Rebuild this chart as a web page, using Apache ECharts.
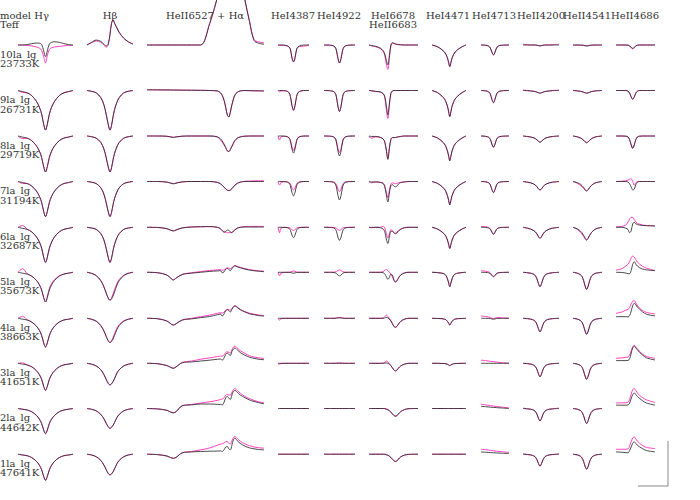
<!DOCTYPE html>
<html><head><meta charset="utf-8">
<script src="https://cdn.jsdelivr.net/npm/echarts@6/dist/echarts.min.js"></script>
<style>html,body{margin:0;padding:0;background:#fff}#c{width:700px;height:500px}</style>
</head><body><div id="c"></div><script>
// ---------- labels ----------
const models = ['10la_lg','9la_lg','8la_lg','7la_lg','6la_lg','5la_lg','4la_lg','3la_lg','2la_lg','1la_lg'];
const teffs = ['23733K','26731K','29719K','31194K','32687K','35673K','38663K','41651K','44642K','47641K'];
const colTitles = ['model Hγ','Hβ','HeII6527 + Hα','HeI4387','HeI4922','HeI6678','HeI4471','HeI4713','HeII4200','HeII4541','HeII4686'];
const subTitles = ['Teff','','','','','HeII6683','','','','',''];

// ---------- wavelength offsets (Angstrom) per panel ----------
const xHg = [-18,-15,-12,-9,-6,-4,-2.5,-1.2,0,1.2,2.5,4,6,9,12,15,18];
const xHb = [-15,-12,-9,-6,-4,-2.5,-1.2,0,1,2,3,4.5,6,9,12,15];
const xHa = [-53,-46,-40,-37.5,-35.8,-34,-30,-24,-18,-12,-7,-5,-3.8,-2.6,-1.5,-0.5,0.5,1.5,2.5,3.5,4.5,6,8,11,14,17,20,23.5];
const x4387 = [-10,-9,-8,-5,-3,-2,-1,0,1,2,3,5,8,10];
const x4922 = [-10,-5,-3,-2,-1,0,1,2,3,5,10];
const x6678 = [-12.5,-11,-8,-5,-3,-2,-1,0,1,2,3,4,5,6,7,8.5,11,14,20];
const x4471 = [-11.5,-8,-5,-3.5,-2.5,-1.5,-0.7,0,0.7,1.5,2.5,3.5,5,8,10.5];
const x4713 = [-8,-5,-3,-2,-1,0,1,2,3,5,10];
const x4200 = [-11,-8,-6,-4,-3,-2,-1,0,1,2,3,4,6,8,12.3];
const x4541 = [-8.8,-6,-4,-3,-2,-1,0,1,2,3,4,6,9.9];
const x4686 = [-10.8,-7,-4.5,-3,-2,-1,0,1,2,3,4.5,6.5,9,14.4];

// ---------- normalised flux, rows top (10la_lg) to bottom (1la_lg) ----------
const hgBlack = [
[1,1,1.005,1.015,1.022,1.02,1.005,0.935,0.87,0.935,1.01,1.03,1.035,1.03,1.015,1.005,1],
[1,.987,.974,.943,.881,.815,.736,.626,.56,.626,.736,.815,.881,.943,.974,.987,1],
[1,.988,.976,.948,.892,.832,.76,.66,.6,.66,.76,.832,.892,.948,.976,.988,1],
[1,.988,.977,.949,.895,.836,.766,.668,.61,.668,.766,.836,.895,.949,.977,.988,1],
[1,.988,.977,.949,.895,.836,.766,.668,.61,.668,.766,.836,.895,.949,.977,.988,1],
[1,.99,.98,.957,.911,.861,.802,.72,.67,.72,.802,.861,.911,.957,.98,.99,1],
[1,.99,.981,.958,.914,.866,.808,.728,.68,.728,.808,.866,.914,.958,.981,.99,1],
[1,.991,.982,.961,.919,.874,.82,.745,.70,.745,.82,.874,.919,.961,.982,.991,1],
[1,.992,.983,.964,.924,.882,.832,.762,.72,.762,.832,.882,.924,.964,.983,.992,1],
[1,.991,.983,.962,.922,.878,.826,.754,.71,.754,.826,.878,.922,.962,.983,.991,1]];
const hgMagenta = [
[1,1,.995,.99,.978,.965,.94,.87,.8,.88,.95,.97,.978,.985,.99,.995,.995],
[1,.978,.974,.943,.881,.815,.736,.626,.56,.626,.736,.815,.881,.943,.974,.987,1],
[1,.972,.976,.948,.892,.832,.76,.66,.6,.66,.76,.832,.892,.948,.976,.988,1],
[1,.978,.977,.949,.895,.836,.766,.668,.61,.668,.766,.836,.895,.949,.977,.988,1],
[1,1.02,.98,.949,.895,.836,.766,.668,.61,.668,.766,.836,.895,.949,.977,.988,1],
[1,1.04,.985,.957,.911,.861,.802,.72,.67,.73,.82,.875,.92,.96,.98,.99,1],
[1,1.022,.985,.958,.914,.866,.808,.728,.68,.728,.808,.866,.914,.958,.981,.99,1],
[1,1.005,.982,.961,.919,.874,.82,.745,.70,.745,.82,.874,.919,.961,.982,.991,1],
[1,.992,.983,.964,.924,.882,.832,.762,.72,.762,.832,.882,.924,.964,.983,.992,1],
[1,.991,.983,.962,.922,.878,.826,.754,.71,.754,.826,.878,.922,.962,.983,.991,1]];

const hbBlack = [
[1,1.03,1.055,1.04,1.01,.99,1.01,1.12,1.24,1.28,1.24,1.19,1.14,1.075,1.035,1.01],
[1,.991,.974,.921,.842,.736,.626,.56,.613,.71,.789,.868,.921,.974,.991,1],
[1,.992,.976,.928,.856,.76,.66,.60,.648,.736,.808,.88,.928,.976,.992,1],
[1,.992,.977,.93,.86,.766,.668,.61,.657,.743,.813,.883,.93,.977,.992,1],
[1,.992,.977,.93,.86,.766,.668,.61,.657,.743,.813,.883,.93,.977,.992,1],
[1,.988,.963,.907,.839,.771,.715,.69,.705,.737,.783,.857,.907,.963,.988,1],
[1,.989,.968,.919,.86,.8,.752,.73,.744,.77,.811,.876,.919,.968,.989,1],
[1,.99,.971,.928,.875,.822,.779,.76,.772,.796,.832,.89,.928,.971,.99,1],
[1,.991,.974,.934,.886,.837,.798,.78,.791,.813,.846,.899,.934,.974,.991,1],
[1,.991,.972,.931,.88,.83,.788,.77,.781,.804,.839,.894,.931,.972,.991,1]];
const hbMagenta = [
[1,1.025,1.045,1.03,1.0,.975,1.0,1.12,1.24,1.28,1.24,1.19,1.14,1.075,1.035,1.01],
[1,.991,.974,.921,.842,.736,.626,.56,.613,.71,.789,.868,.921,.974,.991,1],
[1,.992,.976,.928,.856,.76,.66,.60,.648,.736,.808,.88,.928,.976,.992,1],
[1,.992,.977,.93,.86,.766,.668,.61,.657,.743,.813,.883,.93,.977,.992,1],
[1,.992,.977,.93,.86,.766,.668,.61,.657,.743,.813,.883,.93,.977,.992,1],
[1,.988,.963,.907,.839,.771,.715,.69,.715,.76,.81,.875,.92,.968,.99,1],
[1,.989,.968,.919,.86,.8,.752,.73,.75,.785,.83,.89,.93,.972,.99,1],
[1,.99,.971,.928,.875,.822,.779,.76,.772,.796,.832,.89,.928,.971,.99,1],
[1,.991,.974,.934,.886,.837,.798,.78,.791,.813,.846,.899,.934,.974,.991,1],
[1,.991,.972,.931,.88,.83,.788,.77,.781,.804,.839,.894,.931,.972,.991,1]];

const haBlack = [
[1,1,1,1,1,1,1,1,1,1.24,1.53,1.7,1.8,1.9,2,2.05,2.1,2.1,2.1,2.05,2,1.9,1.75,1.5,1.26,1.05,1.02,1.008],
[1.008,1.007,1.006,1.006,1.005,1.005,1.004,1.003,1.002,1,.995,.975,.945,.89,.81,.73,.705,.76,.84,.905,.95,.98,.995,1,.998,.997,.996,.995],
[1,1,.997,.99,.985,.99,.998,1,1,1,.99,.97,.945,.91,.87,.835,.828,.85,.885,.92,.95,.975,.99,.998,1,1,1,1],
[1,1,.993,.982,.975,.982,.996,1,1,1,.99,.975,.957,.937,.917,.903,.9,.905,.92,.94,.96,.98,.993,1,1,1,1,1],
[1,.998,.985,.968,.96,.97,.993,1.003,1.006,1.008,1.0,.985,.962,.945,.955,.968,.965,.95,.94,.955,.97,.99,1.0,1.003,1.003,1.003,1.003,1.003],
[1,.995,.97,.935,.915,.935,.975,.99,1.0,1.01,1.015,1.018,.995,1.005,1.035,1.045,1.03,1.018,1.04,1.06,1.073,1.06,1.05,1.035,1.025,1.017,1.012,1.007],
[1,.995,.97,.94,.925,.94,.98,.993,1.007,1.02,1.04,1.048,1.025,1.05,1.085,1.097,1.085,1.07,1.1,1.125,1.137,1.12,1.095,1.07,1.05,1.04,1.03,1.025],
[1,.995,.975,.955,.945,.96,1.005,1.015,1.025,1.035,1.045,1.048,1.035,1.06,1.1,1.115,1.1,1.085,1.13,1.16,1.17,1.15,1.12,1.09,1.068,1.055,1.045,1.04],
[1,.995,.98,.96,.952,.965,1.03,1.04,1.05,1.05,1.046,1.045,1.04,1.07,1.12,1.135,1.115,1.1,1.15,1.19,1.2,1.18,1.15,1.12,1.095,1.078,1.065,1.052],
[1,.995,.98,.962,.955,.965,1.015,1.025,1.03,1.033,1.035,1.037,1.03,1.05,1.08,1.085,1.06,1.048,1.1,1.16,1.178,1.15,1.12,1.09,1.07,1.06,1.052,1.048]];
const haMagenta = [
[1,1,1,1,1,1,1,1,1,1.24,1.53,1.7,1.8,1.9,2,2.05,2.1,2.1,2.1,2.05,2,1.9,1.75,1.5,1.27,1.06,1.035,1.025],
[1.008,1.007,1.006,1.006,1.005,1.005,1.004,1.003,1.002,1,.995,.975,.945,.89,.81,.73,.705,.76,.84,.905,.95,.98,.995,1,.998,.997,.996,.995],
[1,1,.997,.99,.985,.99,.998,1,1,1,.99,.955,.93,.9,.87,.835,.828,.85,.885,.92,.95,.975,.99,.998,1,1,1,1],
[1,1,.993,.982,.975,.982,.996,1,1,1,.99,.975,.957,.937,.917,.903,.9,.905,.92,.94,.96,.98,.993,1.003,1.005,1.007,1.008,1.008],
[1,.998,.985,.968,.96,.97,.993,1.003,1.006,1.008,1.0,.985,.965,.95,.945,.94,.94,.94,.945,.96,.975,.99,1.0,1.008,1.01,1.01,1.01,1.01],
[1,.995,.97,.935,.915,.935,.977,.995,1.008,1.02,1.027,1.03,1.022,1.027,1.04,1.05,1.045,1.04,1.052,1.066,1.076,1.066,1.055,1.04,1.03,1.022,1.017,1.012],
[1,.995,.97,.94,.925,.94,.982,1.0,1.018,1.035,1.055,1.062,1.058,1.07,1.09,1.1,1.095,1.09,1.11,1.13,1.14,1.125,1.1,1.075,1.057,1.045,1.037,1.03],
[1,.995,.975,.955,.945,.96,1.01,1.025,1.045,1.06,1.075,1.08,1.08,1.095,1.12,1.13,1.12,1.115,1.15,1.18,1.19,1.17,1.14,1.11,1.085,1.07,1.06,1.055],
[1,.995,.98,.96,.952,.965,1.03,1.045,1.06,1.075,1.09,1.1,1.105,1.12,1.15,1.156,1.15,1.15,1.18,1.21,1.22,1.2,1.17,1.135,1.11,1.09,1.075,1.063],
[1,.995,.98,.962,.955,.965,1.015,1.03,1.048,1.07,1.1,1.112,1.115,1.125,1.14,1.14,1.12,1.115,1.15,1.185,1.196,1.175,1.145,1.115,1.095,1.08,1.072,1.067]];

const he4387Black = [
[1,1,1,.996,.981,.954,.861,.815,.861,.954,.981,.996,1,1],
[1,1,1,.996,.978,.934,.835,.78,.835,.934,.978,.996,1,1],
[1,1,1,.996,.981,.943,.858,.81,.858,.943,.981,.996,1,1],
[1,1,1,.997,.984,.952,.88,.84,.88,.952,.984,.997,1,1],
[1,1,1,.998,.989,.966,.914,.885,.914,.966,.989,.998,1,1],
[1,1,1,1,1,.998,.993,.99,.993,.998,1,1,1,1],
[1,1,1,1,1,1,1,1,1,1,1,1,1,1],
[1,1,1,1,1,1,1,1,1,1,1,1,1,1],
[1,1,1,1,1,1,1,1,1,1,1,1,1,1],
[1,1,1,1,1,1,1,1,1,1,1,1,1,1]];
const he4387Magenta = [
[1,.995,.998,.993,.978,.95,.855,.81,.855,.95,.975,.985,.99,1],
[1,.985,.995,.996,.978,.934,.835,.78,.835,.934,.978,.996,1,1],
[1,.955,.99,.997,.984,.952,.88,.84,.88,.952,.984,.997,1,1],
[1,.96,.99,.998,.99,.972,.929,.905,.929,.972,.99,.998,1,1],
[1,.94,.99,1,.997,.99,.974,.965,.974,.99,.997,1,1,1],
[1,.96,.99,1,1,1.004,1.011,1.015,1.011,1.004,1,1,1,1],
[1,.98,.995,1,1,1,1,1,1,1,1,1,1,1],
[1,.99,.998,1,1,1,1,1,1,1,1,1,1,1],
[1,1,1,1,1,1,1,1,1,1,1,1,1,1],
[1,1,1,1,1,1,1,1,1,1,1,1,1,1]];

const he4922Black = [
[1,.996,.98,.94,.85,.8,.85,.94,.98,.996,1],
[1,.995,.977,.93,.825,.767,.825,.93,.977,.995,1],
[1,.996,.978,.933,.834,.778,.834,.933,.978,.996,1],
[1,.996,.98,.939,.846,.795,.846,.939,.98,.996,1],
[1,.997,.986,.957,.891,.855,.891,.957,.986,.997,1],
[1,1,.996,.988,.97,.96,.97,.988,.996,1,1],
[1,1,1,1.002,1.004,1.005,1.004,1.002,1,1,1],
[1,1,1,1,1,1,1,1,1,1,1],
[1,1,1,1,1,1,1,1,1,1,1],
[1,1,1,1,1,1,1,1,1,1,1]];
const he4922Magenta = [
[1,.996,.98,.94,.85,.8,.85,.94,.98,.996,1],
[1,.995,.977,.93,.825,.767,.825,.93,.977,.995,1],
[1,.996,.981,.944,.861,.815,.861,.944,.981,.996,1],
[1,.998,.989,.966,.915,.887,.915,.966,.989,.998,1],
[1,1,.997,.99,.975,.967,.975,.99,.997,1,1],
[1,1,1.003,1.008,1.019,1.025,1.019,1.008,1.003,1,1],
[1,1,1,1.003,1.008,1.01,1.008,1.003,1,1,1],
[1,1,1,1.002,1.004,1.005,1.004,1.002,1,1,1],
[1,1,1,1,1,1,1,1,1,1,1],
[1,1,1,1,1,1,1,1,1,1,1]];

const he6678Black = [
[1,.995,.985,.965,.935,.9,.83,.78,.88,1.0,1.025,1.02,1.012,1.008,1.005,1.003,1,1,1],
[1,.998,.99,.985,.965,.93,.83,.73,.85,.97,.995,1,1,1,1,1,1,1,1],
[1,.995,.995,.985,.965,.93,.84,.74,.86,.96,.983,.982,.983,.987,.991,.995,1,1,1],
[1,.995,.995,.99,.975,.94,.85,.773,.87,.955,.965,.95,.94,.95,.97,.988,.995,1,1],
[1,1,1,.995,.98,.95,.87,.82,.89,.955,.955,.937,.928,.937,.955,.978,.995,1,1],
[1,1,1,1,.995,.98,.95,.922,.945,.978,.97,.92,.89,.905,.935,.97,.993,1,1],
[1,1,1,1,1,1.005,1.01,1.005,.99,.97,.94,.912,.9,.91,.935,.965,.99,1,1],
[1,1,1,1,1,1.002,1.005,1.0,.99,.975,.95,.927,.915,.925,.945,.97,.99,1,1],
[1,1,1,1,1,.998,.99,.985,.975,.96,.94,.922,.915,.92,.94,.965,.988,.998,1],
[1,1,1,1,1,.998,.992,.988,.978,.963,.945,.927,.92,.925,.945,.97,.99,.998,1]];
const he6678Magenta = [
[1,.99,.98,.96,.925,.88,.79,.73,.85,.99,1.02,1.015,1.01,1.006,1.004,1.002,1,1,1],
[1,.995,.99,.98,.96,.92,.79,.69,.83,.965,.99,1,1,1,1,1,1,1,1],
[1,.975,.99,.985,.965,.93,.845,.75,.865,.96,.983,.982,.983,.987,.991,.995,1,1,1],
[1,.985,.995,.99,.98,.95,.88,.82,.9,.97,.985,.98,.975,.98,.985,.99,.995,1,1],
[1,.995,1,1,1.01,.99,.93,.88,.93,.97,.965,.945,.935,.945,.965,.98,.995,1,1],
[1,1,1,1,1.01,1.025,1.03,1.02,1.0,.98,.95,.91,.895,.905,.935,.97,.993,1,1],
[1,1,1,1,1.005,1.02,1.035,1.02,1.0,.975,.945,.91,.9,.91,.935,.965,.99,1,1],
[1,1,1,1,1.003,1.01,1.025,1.015,.995,.975,.95,.927,.915,.925,.945,.97,.99,1,1],
[1,1,1,1,1,1,.998,.99,.978,.96,.94,.922,.915,.92,.94,.965,.988,.998,1],
[1,1,1,1,1,1,.998,.99,.98,.963,.945,.927,.92,.925,.945,.97,.99,.998,1]];

const he4471Black = [
[1,.981,.947,.923,.897,.856,.803,.76,.803,.856,.897,.923,.947,.981,1],
[1,.977,.936,.907,.875,.826,.762,.71,.762,.826,.875,.907,.936,.977,1],
[1,.978,.94,.912,.882,.835,.775,.725,.775,.835,.882,.912,.94,.978,1],
[1,.979,.943,.917,.888,.844,.787,.74,.787,.844,.888,.917,.943,.979,1],
[1,.981,.948,.925,.899,.859,.807,.765,.807,.859,.899,.925,.948,.981,1],
[1,.997,.99,.981,.965,.928,.88,.84,.88,.928,.965,.981,.99,.997,1],
[1,.998,.996,.991,.984,.966,.944,.925,.944,.966,.984,.991,.996,.998,1],
[1,1,.998,.997,.995,.989,.981,.975,.981,.989,.995,.997,.998,1,1],
[1,1,1,1,1,1,1,1,1,1,1,1,1,1,1],
[1,1,1,1,1,1,1,1,1,1,1,1,1,1,1]];
const he4471Magenta = [
[1,.981,.947,.923,.897,.856,.803,.76,.803,.856,.897,.923,.947,.981,1],
[1,.977,.936,.907,.875,.826,.762,.71,.762,.826,.875,.907,.936,.977,1],
[1,.978,.94,.912,.882,.835,.775,.725,.775,.835,.882,.912,.94,.978,1],
[1,.979,.943,.917,.888,.844,.787,.74,.787,.844,.888,.917,.943,.979,1],
[1,.981,.948,.925,.899,.859,.807,.765,.807,.859,.899,.925,.948,.981,1],
[1,.997,.99,.981,.965,.928,.88,.84,.88,.928,.965,.981,.99,.997,1],
[1,.998,.996,.991,.984,.966,.944,.925,.944,.966,.984,.991,.996,.998,1],
[1,1,.998,.997,.995,.989,.981,.975,.981,.989,.995,.997,.998,1,1],
[1,1,1,1,1,1,1,1,1,1,1,1,1,1,1],
[1,1,1,1,1,1,1,1,1,1,1,1,1,1,1]];

const he4713Black = [
[1,.997,.987,.967,.921,.89,.921,.967,.987,.997,1],
[1,.996,.984,.96,.903,.865,.903,.96,.984,.996,1],
[1,.996,.985,.963,.91,.875,.91,.963,.985,.996,1],
[1,.996,.985,.963,.911,.877,.911,.963,.985,.996,1],
[1,.998,.991,.977,.944,.922,.944,.977,.991,.998,1],
[1,.998,.994,.985,.964,.95,.964,.985,.994,.998,1],
[1,1,.999,.997,.993,.99,.993,.997,.999,1,1],
[1,1,1,1,1,1,1,1,1,1,1],
[1.025,1.02,1.017,1.015,1.013,1.012,1.011,1.01,1.008,1.006,1.0],
[1.025,1.022,1.02,1.018,1.017,1.016,1.015,1.014,1.013,1.011,1.008]];
const he4713Magenta = [
[1,.997,.987,.967,.921,.89,.921,.967,.987,.997,1],
[1,.996,.984,.96,.903,.865,.903,.96,.984,.996,1],
[1,.996,.985,.963,.91,.875,.91,.963,.985,.996,1],
[1,.996,.985,.963,.911,.877,.911,.963,.985,.996,1],
[1.01,1.006,.998,.983,.95,.925,.946,.978,.991,.998,1],
[1.018,1.012,1.004,.992,.97,.955,.966,.986,.994,.998,1],
[1.025,1.02,1.014,1.008,1.0,.996,1.002,1.008,1.008,1.005,1.0],
[1.035,1.03,1.025,1.022,1.02,1.018,1.016,1.014,1.012,1.008,1.0],
[1.048,1.04,1.035,1.032,1.03,1.028,1.025,1.022,1.02,1.016,1.007],
[1.055,1.05,1.045,1.042,1.04,1.038,1.036,1.034,1.032,1.028,1.02]];

const he4200Black = [
[1,1,1,1,1,.998,.993,.99,.993,.998,1,1,1,1,1],
[1,.998,.995,.991,.987,.982,.975,.97,.975,.982,.987,.991,.995,.998,1],
[1,.994,.989,.979,.971,.958,.941,.93,.941,.958,.971,.979,.989,.994,1],
[1,.992,.985,.972,.96,.943,.919,.905,.919,.943,.96,.972,.985,.992,1],
[1,.99,.98,.963,.949,.927,.896,.878,.896,.927,.949,.963,.98,.99,1],
[1,.995,.99,.978,.962,.928,.875,.84,.875,.928,.962,.978,.99,.995,1],
[1,.996,.991,.979,.964,.933,.883,.85,.883,.933,.964,.979,.991,.996,1],
[1,.996,.991,.979,.964,.933,.883,.85,.883,.933,.964,.979,.991,.996,1],
[1,.996,.992,.981,.967,.938,.892,.862,.892,.938,.967,.981,.992,.996,1],
[1,.996,.992,.981,.968,.94,.896,.867,.896,.94,.968,.981,.992,.996,1]];
const he4200Magenta = [
[1.008,1.003,1,1,1,.998,.993,.99,.993,.998,1,1,1,1.003,1.008],
[1.005,1.0,.995,.991,.987,.982,.975,.97,.975,.982,.987,.991,.995,1.0,1.005],
[1,.994,.989,.979,.971,.958,.941,.93,.941,.958,.971,.979,.989,.994,1],
[1,.992,.985,.972,.96,.943,.919,.905,.919,.943,.96,.972,.985,.992,1],
[1,.99,.98,.963,.949,.927,.896,.878,.896,.927,.949,.963,.98,.99,1],
[1,.995,.99,.978,.962,.928,.875,.84,.875,.928,.962,.978,.99,.995,1],
[1,.996,.991,.979,.964,.933,.883,.85,.883,.933,.964,.979,.991,.996,1],
[1,.996,.991,.979,.964,.933,.883,.85,.883,.933,.964,.979,.991,.996,1],
[1.005,.996,.992,.981,.967,.938,.892,.862,.892,.938,.967,.981,.992,.996,1.005],
[1.005,.996,.992,.981,.968,.94,.896,.867,.896,.94,.968,.981,.992,.996,1.005]];

const he4541Black = [
[1,1,.999,.998,.996,.992,.99,.992,.996,.998,.999,1,1],
[1,.996,.991,.987,.981,.974,.97,.974,.981,.987,.991,.996,1],
[1,.991,.978,.968,.954,.936,.926,.936,.954,.968,.978,.991,1],
[1,.987,.969,.955,.935,.91,.895,.91,.935,.955,.969,.987,1],
[1,.983,.958,.94,.913,.88,.86,.88,.913,.94,.958,.983,1],
[1,.99,.973,.953,.911,.848,.81,.848,.911,.953,.973,.99,1],
[1,.991,.975,.956,.916,.858,.822,.858,.916,.956,.975,.991,1],
[1,.991,.975,.956,.916,.858,.822,.858,.916,.956,.975,.991,1],
[1,.992,.977,.958,.922,.866,.833,.866,.922,.958,.977,.992,1],
[1,.992,.977,.958,.922,.866,.833,.866,.922,.958,.977,.992,1]];
const he4541Magenta = [
[1,1,.999,.998,.996,.992,.99,.992,.996,.998,.999,1,1],
[1,.996,.991,.987,.981,.974,.97,.974,.981,.987,.991,.996,1],
[1,.991,.978,.968,.954,.936,.926,.936,.954,.968,.978,.991,1],
[1,.98,.955,.94,.925,.905,.895,.91,.935,.955,.969,.987,1],
[1,.975,.945,.925,.9,.873,.858,.88,.913,.94,.958,.983,1],
[1,.99,.973,.953,.911,.848,.81,.848,.911,.953,.973,.99,1],
[1,.991,.975,.956,.916,.858,.822,.858,.916,.956,.975,.991,1],
[1,.991,.975,.956,.916,.858,.822,.858,.916,.956,.975,.991,1],
[1,.992,.977,.958,.922,.866,.833,.866,.922,.958,.977,.992,1],
[1,.992,.977,.958,.922,.866,.833,.866,.922,.958,.977,.992,1]];

const he4686Black = [
[1,1,1,.998,.99,.975,.963,.975,.99,.998,1,1,1,1],
[1,1,1,.992,.971,.929,.902,.929,.971,.992,1,1,1,1],
[1,1,.998,.989,.959,.901,.863,.901,.959,.989,.998,1,1,1],
[1,1,1,.993,.975,.94,.907,.915,.965,.99,1,1,1,1],
[1,1,.99,.975,.94,.96,1.04,1.055,1.04,1.03,1.025,1.02,1.018,1.015],
[1,.998,.992,.985,.985,1.02,1.09,1.118,1.09,1.07,1.05,1.035,1.027,1.018],
[1.018,1.018,1.018,1.015,1.03,1.08,1.14,1.167,1.15,1.125,1.1,1.07,1.045,1.026],
[1.03,1.03,1.03,1.032,1.05,1.11,1.17,1.19,1.17,1.15,1.12,1.09,1.06,1.037],
[1.037,1.037,1.037,1.04,1.06,1.11,1.155,1.173,1.155,1.135,1.11,1.085,1.06,1.037],
[1.026,1.022,1.018,1.015,1.04,1.08,1.12,1.137,1.12,1.1,1.08,1.06,1.04,1.026]];
const he4686Magenta = [
[1,1,1,.998,.988,.97,.955,.97,.988,.998,1,1,1,1],
[1,1,1,.992,.971,.929,.902,.929,.971,.992,1,1,1,1],
[1,1,.998,.989,.959,.901,.863,.901,.959,.989,.998,1,1,1],
[1,1.003,1.008,1.015,1.025,1.03,1.0,.96,.985,.997,1,1,1,1],
[1.005,1.01,1.025,1.06,1.09,1.11,1.11,1.085,1.06,1.045,1.035,1.025,1.02,1.015],
[1.025,1.04,1.07,1.09,1.12,1.16,1.18,1.17,1.14,1.115,1.09,1.065,1.045,1.02],
[1.055,1.07,1.09,1.1,1.12,1.16,1.19,1.196,1.17,1.145,1.11,1.085,1.065,1.048],
[1.055,1.06,1.066,1.07,1.09,1.14,1.185,1.2,1.18,1.16,1.13,1.1,1.075,1.055],
[1.062,1.063,1.064,1.07,1.1,1.16,1.21,1.222,1.2,1.175,1.145,1.12,1.095,1.067],
[1.055,1.055,1.055,1.06,1.09,1.14,1.18,1.192,1.17,1.145,1.12,1.095,1.075,1.063]];

// ---------- panel layout (pixels) and axis windows ----------
const panels = [
  {x: xHg,   black: hgBlack,     magenta: hgMagenta},
  {x: xHb,   black: hbBlack,     magenta: hbMagenta},
  {x: xHa,   black: haBlack,     magenta: haMagenta},
  {x: x4387, black: he4387Black, magenta: he4387Magenta},
  {x: x4922, black: he4922Black, magenta: he4922Magenta},
  {x: x6678, black: he6678Black, magenta: he6678Magenta},
  {x: x4471, black: he4471Black, magenta: he4471Magenta},
  {x: x4713, black: he4713Black, magenta: he4713Magenta},
  {x: x4200, black: he4200Black, magenta: he4200Magenta},
  {x: x4541, black: he4541Black, magenta: he4541Magenta},
  {x: x4686, black: he4686Black, magenta: he4686Magenta}
];
const colBox = [[18,73],[87,133],[147,264],[278,309],[324,355],[369,418],[432,466],[481,509],[523,559],[573,602],[616,655]];
const colRange = [[-18,18],[-15,15],[-53,23.5],[-10,10],[-10,10],[-12.5,20],[-11.5,10.5],[-8,10],[-11,12.3],[-8.8,9.9],[-10.8,14.4]];
const titleX = [0,110,205,293,339,393,448,494,541,587,635];
const rowBase = [45,90.5,136,181.5,227.3,272.3,318.3,363.3,408.5,454.2];
const PX_PER_UNIT = 90;
const LINE_H = 9.5;

const FONT = '10px "DejaVu Serif"';
const grids = [], xAxes = [], yAxes = [], series = [];
let k = 0;
rowBase.forEach((base, r) => {
  panels.forEach((p, c) => {
    grids.push({left: colBox[c][0], width: colBox[c][1] - colBox[c][0],
                top: base - PX_PER_UNIT * 0.5, height: PX_PER_UNIT});
    xAxes.push({gridIndex: k, type: 'value', min: colRange[c][0], max: colRange[c][1], show: false});
    yAxes.push({gridIndex: k, type: 'value', min: 0.5, max: 1.5, show: false});
    const common = {type: 'line', xAxisIndex: k, yAxisIndex: k, symbol: 'none', showSymbol: false,
                    smooth: 0.35, clip: false, silent: true, animation: false};
    series.push(Object.assign({}, common, {
      name: models[r] + ' ' + colTitles[c] + ' magenta',
      data: p.x.map((v, i) => [v, p.magenta[r][i]]),
      lineStyle: {color: '#ff3fbf', width: 1}, z: 2}));
    series.push(Object.assign({}, common, {
      name: models[r] + ' ' + colTitles[c] + ' black',
      data: p.x.map((v, i) => [v, p.black[r][i]]),
      lineStyle: {color: '#2a2a2a', width: 1, opacity: 0.85}, z: 3}));
    k++;
  });
});

// multi-line texts are single elements so stacked lines never collide
function txt(s, x, yFirstLineCentre, align) {
  return {type: 'text', x: x, y: yFirstLineCentre - LINE_H / 2, silent: true,
    style: {text: s, font: FONT, fill: '#333', lineHeight: LINE_H,
            textAlign: align, textVerticalAlign: 'top', align: align, verticalAlign: 'top'}};
}
const graphics = [];
colTitles.forEach((t, c) => {
  const s = subTitles[c] ? t + '\n' + subTitles[c] : t;
  graphics.push(txt(s, titleX[c], 15, c === 0 ? 'left' : 'center'));
});
rowBase.forEach((base, r) => {
  graphics.push(txt(models[r] + '\n' + teffs[r], 0, base + 9, 'left'));
});
graphics.push({type: 'polyline', silent: true,
  shape: {points: [[638, 486], [668, 486], [668, 441]]},
  style: {stroke: '#888', lineWidth: 1, fill: null}});

const chart = echarts.init(document.getElementById('c'), null, {renderer: 'svg', width: 700, height: 500});
chart.setOption({
  animation: false,
  backgroundColor: '#fff',
  grid: grids, xAxis: xAxes, yAxis: yAxes, series: series,
  graphic: {elements: graphics}
});
</script></body></html>
